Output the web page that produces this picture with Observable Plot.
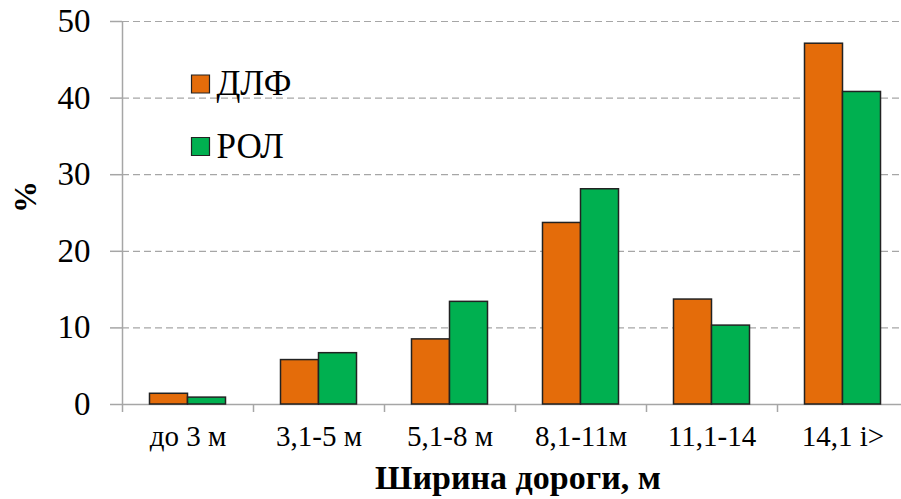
<!DOCTYPE html>
<html><head><meta charset="utf-8">
<script src="https://cdn.jsdelivr.net/npm/d3@7"></script>
<script src="https://cdn.jsdelivr.net/npm/@observablehq/plot@0.6"></script>
<style>body{margin:0;background:#fff;} svg{display:block}</style>
</head><body><div id="chart"></div>
<script>
const categories = ["до 3 м", "3,1-5 м", "5,1-8 м", "8,1-11м", "11,1-14", "14,1 і>"];
const dlf = [1.4, 5.8, 8.5, 23.7, 13.7, 47.1];
const rol = [0.9, 6.7, 13.4, 28.1, 10.3, 40.8];
const seriesNames = ["ДЛФ", "РОЛ"];
const yTicks = [0, 10, 20, 30, 40, 50];
const xTitle = "Ширина дороги, м";
const yTitle = "%";

const rows = categories.map((c, i) => ({cat: c, dlf: dlf[i], rol: rol[i]}));
const orange = "#E46C0A", green = "#00B050", grid = "#a6a6a6";
const half = 786 / categories.length / 2;

const chart = Plot.plot({
  width: 901, height: 499,
  marginLeft: 122, marginRight: 0, marginTop: 21, marginBottom: 95,
  style: {fontFamily: "'Liberation Serif', 'Times New Roman', serif", background: "#fff", color: "#000", overflow: "visible"},
  x: {domain: categories, range: [122, 908], padding: 0, label: null},
  y: {domain: [0, 50], label: null},
  marks: [
    Plot.ruleY(yTicks.filter(d => d > 0), {stroke: grid, strokeWidth: 1.2, strokeDasharray: "7,4"}),
    Plot.axisY({ticks: yTicks, tickSize: 12, tickPadding: 20, fontSize: 33, stroke: grid, fill: "#000", strokeWidth: 1.5, label: null}),
    Plot.axisX({tickSize: 0, tickPadding: 21, fontSize: 29, fill: "#000", label: null}),
    Plot.axisX({tickSize: 8, tickFormat: () => "", stroke: grid, strokeWidth: 1.5, dx: -half, label: null}),
    Plot.ruleX([categories[0]], {y1: 0, y2: 50, dx: -half, stroke: grid, strokeWidth: 1.5}),
    Plot.ruleY([0], {stroke: grid, strokeWidth: 1.5}),
    Plot.barY(rows, {x: "cat", y: "dlf", fill: orange, stroke: "#222", strokeWidth: 1.5, insetLeft: half - 19, insetRight: half - 19, dx: -19}),
    Plot.barY(rows, {x: "cat", y: "rol", fill: green, stroke: "#222", strokeWidth: 1.5, insetLeft: half - 19, insetRight: half - 19, dx: 19}),
    Plot.dot([seriesNames[0]], {frameAnchor: "top-left", dx: 78, dy: 62.5, symbol: "square", r: 10.15, fill: orange, stroke: "#222", strokeWidth: 1.2}),
    Plot.dot([seriesNames[1]], {frameAnchor: "top-left", dx: 78, dy: 125, symbol: "square", r: 10.15, fill: green, stroke: "#222", strokeWidth: 1.2}),
    Plot.text([seriesNames[0]], {text: d => d, frameAnchor: "top-left", lineAnchor: "middle", dx: 94, dy: 62, textAnchor: "start", fontSize: 35, fill: "#000"}),
    Plot.text([seriesNames[1]], {text: d => d, frameAnchor: "top-left", lineAnchor: "middle", dx: 94, dy: 125, textAnchor: "start", fontSize: 35, fill: "#000"}),
    Plot.text([yTitle], {text: d => d, frameAnchor: "left", lineAnchor: "middle", dx: -97, rotate: -90, fontSize: 32, fontWeight: "bold", fill: "#000"}),
    Plot.text([xTitle], {text: d => d, frameAnchor: "bottom", lineAnchor: "middle", dx: 6, dy: 74, fontSize: 34, fontWeight: "bold", fill: "#000"})
  ]
});
document.getElementById("chart").appendChild(chart);
</script>
</body></html>
